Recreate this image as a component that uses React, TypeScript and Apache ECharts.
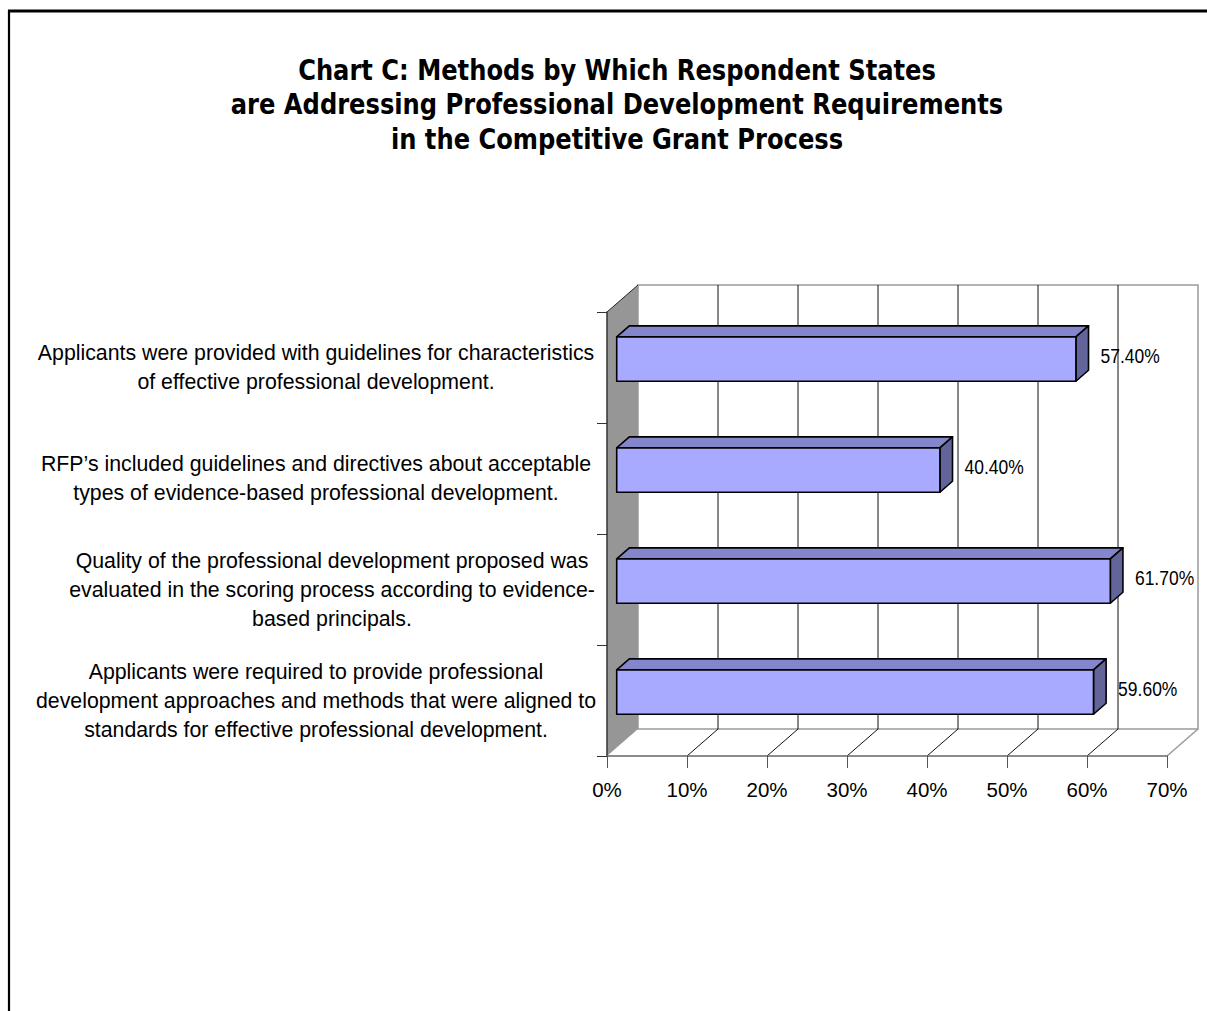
import React, { useEffect, useRef } from "react";
import * as echarts from "echarts";

const titleLines = [
  "Chart C: Methods by Which Respondent States",
  "are Addressing Professional Development Requirements",
  "in the Competitive Grant Process",
];

const categories = [
  "Applicants were provided with guidelines for characteristics\nof effective professional development.",
  "RFP’s included guidelines and directives about acceptable\ntypes of evidence-based professional development.",
  "Quality of the professional development proposed was\nevaluated in the scoring process according to evidence-\nbased principals.",
  "Applicants were required to provide professional\ndevelopment approaches and methods that were aligned to\nstandards for effective professional development.",
];

const values = [57.4, 40.4, 61.7, 59.6];
const valueLabels = ["57.40%", "40.40%", "61.70%", "59.60%"];
const xTicks = [0, 10, 20, 30, 40, 50, 60, 70];

// depth vector of the 3D box (px)
const DEPTH = [31, -27];
const BAR_D1 = 0.313;
const BAR_D2 = 0.72;
const BAR_H = 0.4;
const LABEL_FONT = '"Liberation Sans", Arial, sans-serif';

export default function App() {
  const ref = useRef<HTMLDivElement>(null);
  useEffect(() => {
    if (!ref.current) return;
    const chart = echarts.init(ref.current, undefined, { renderer: "svg" });

    const wallsRender = (params: any, api: any) => {
      const cs = params.coordSys;
      const L = cs.x, T = cs.y, R = cs.x + cs.width, B = cs.y + cs.height;
      const dx = DEPTH[0], dy = DEPTH[1];
      const children: any[] = [];
      children.push({
        type: "polygon",
        shape: { points: [[L, B], [R, B], [R + dx, B + dy], [L + dx, B + dy]] },
        style: { fill: "#ffffff", stroke: "none" },
      });
      children.push({
        type: "rect",
        shape: { x: L + dx, y: T + dy, width: cs.width, height: cs.height },
        style: { fill: "#ffffff", stroke: "#9a9a9a", lineWidth: 1.5 },
      });
      children.push({
        type: "polygon",
        shape: { points: [[L, T], [L + dx, T + dy], [L + dx, B + dy], [L, B]] },
        style: { fill: "#969696", stroke: "none" },
      });
      children.push({
        type: "line",
        shape: { x1: L, y1: T, x2: L + dx, y2: T + dy },
        style: { stroke: "#222", lineWidth: 1 },
      });
      xTicks.forEach((t) => {
        const x = api.coord([t, 0])[0];
        if (t > 0 && t < xTicks[xTicks.length - 1]) {
          children.push({
            type: "line",
            shape: { x1: x + dx, y1: T + dy, x2: x + dx, y2: B + dy },
            style: { stroke: "#111", lineWidth: 1 },
          });
        }
        if (t > 0) {
          const last = t === xTicks[xTicks.length - 1];
          children.push({
            type: "line",
            shape: { x1: x, y1: B, x2: x + dx, y2: B + dy },
            style: { stroke: last ? "#9a9a9a" : "#111", lineWidth: last ? 1.5 : 1 },
          });
        }
      });
      return { type: "group", children };
    };

    const barRender = (params: any, api: any) => {
      const v = api.value(0);
      const cat = api.value(1);
      const p0 = api.coord([0, cat]);
      const p1 = api.coord([v, cat]);
      const band = api.size([0, 1])[1];
      const h = band * BAR_H;
      const dx = DEPTH[0], dy = DEPTH[1];
      const fx0 = p0[0] + dx * BAR_D1;
      const fx1 = p1[0] + dx * BAR_D1;
      const cy = p0[1] + dy * BAR_D1;
      const top = cy - h / 2, bot = cy + h / 2;
      const ddx = dx * (BAR_D2 - BAR_D1), ddy = dy * (BAR_D2 - BAR_D1);
      const outline = { stroke: "#000", lineWidth: 1.6, lineJoin: "round" };
      return {
        type: "group",
        children: [
          {
            type: "polygon",
            shape: { points: [[fx0, top], [fx1, top], [fx1 + ddx, top + ddy], [fx0 + ddx, top + ddy]] },
            style: { fill: "#8486cc", ...outline },
          },
          {
            type: "polygon",
            shape: { points: [[fx1, top], [fx1 + ddx, top + ddy], [fx1 + ddx, bot + ddy], [fx1, bot]] },
            style: { fill: "#62649a", ...outline },
          },
          {
            type: "rect",
            shape: { x: fx0, y: top, width: fx1 - fx0, height: h },
            style: { fill: "#a8aaff", ...outline },
          },
          {
            type: "text",
            x: fx1 + ddx + 12,
            y: cy - 3,
            scaleY: 1.2,
            style: {
              text: valueLabels[params.dataIndex],
              fill: "#000",
              font: '17.5px ' + LABEL_FONT,
              textAlign: "left",
              textVerticalAlign: "middle",
            },
          },
        ],
      };
    };

    chart.setOption({
      animation: false,
      backgroundColor: "#ffffff",
      grid: { left: 607, top: 312, width: 560, height: 444, containLabel: false },
      xAxis: {
        type: "value",
        min: 0,
        max: 70,
        interval: 10,
        z: 5,
        axisLine: { show: true, lineStyle: { color: "#666", width: 1.5 } },
        axisTick: { show: true, length: 12, lineStyle: { color: "#555", width: 1 } },
        splitLine: { show: false },
        axisLabel: {
          formatter: "{value}%",
          margin: 23,
          color: "#000",
          fontFamily: LABEL_FONT,
          fontSize: 20.5,
        },
      },
      yAxis: {
        type: "category",
        data: categories,
        inverse: true,
        z: 5,
        axisLine: { show: true, lineStyle: { color: "#333", width: 1.5 } },
        axisTick: { show: true, length: 10, lineStyle: { color: "#333", width: 1 } },
        splitLine: { show: false },
        axisLabel: {
          margin: 291,
          align: "center",
          color: "#000",
          fontFamily: LABEL_FONT,
          fontSize: 21.3,
          lineHeight: 29,
          formatter: (val: string, idx: number) =>
            idx === 2
              ? val
                  .split("\n")
                  .map((l) => "{s|" + l + "}")
                  .join("\n")
              : val,
          rich: {
            s: {
              padding: [0, 0, 0, 32],
              fontFamily: LABEL_FONT,
              fontSize: 21.3,
              lineHeight: 29,
              color: "#000",
            },
          },
        },
      },
      series: [
        {
          type: "custom",
          name: "walls",
          coordinateSystem: "cartesian2d",
          silent: true,
          z: 1,
          data: [[0, 0]],
          encode: { x: 0, y: 1 },
          renderItem: wallsRender,
        },
        {
          type: "custom",
          name: "values",
          coordinateSystem: "cartesian2d",
          z: 3,
          data: values.map((v, i) => [v, i]),
          encode: { x: 0, y: 1 },
          renderItem: barRender,
        },
      ],
      graphic: [
        {
          type: "text",
          x: 617,
          y: 53,
          scaleY: 1.16,
          style: {
            text: titleLines.join("\n"),
            font: 'bold 24.2px "DejaVu Sans", Verdana, sans-serif',
            textAlign: "center",
            textVerticalAlign: "top",
            lineHeight: 29.7,
            fill: "#000",
          },
        },
        {
          type: "line",
          shape: { x1: 8, y1: 11, x2: 1207, y2: 11 },
          style: { stroke: "#000", lineWidth: 3 },
        },
        {
          type: "line",
          shape: { x1: 9, y1: 10, x2: 9, y2: 1011 },
          style: { stroke: "#000", lineWidth: 2.2 },
        },
      ],
    });
    return () => chart.dispose();
  }, []);
  return (
    <div
      ref={ref}
      style={{ position: "absolute", left: 0, top: 0, width: 1207, height: 1011 }}
    />
  );
}
